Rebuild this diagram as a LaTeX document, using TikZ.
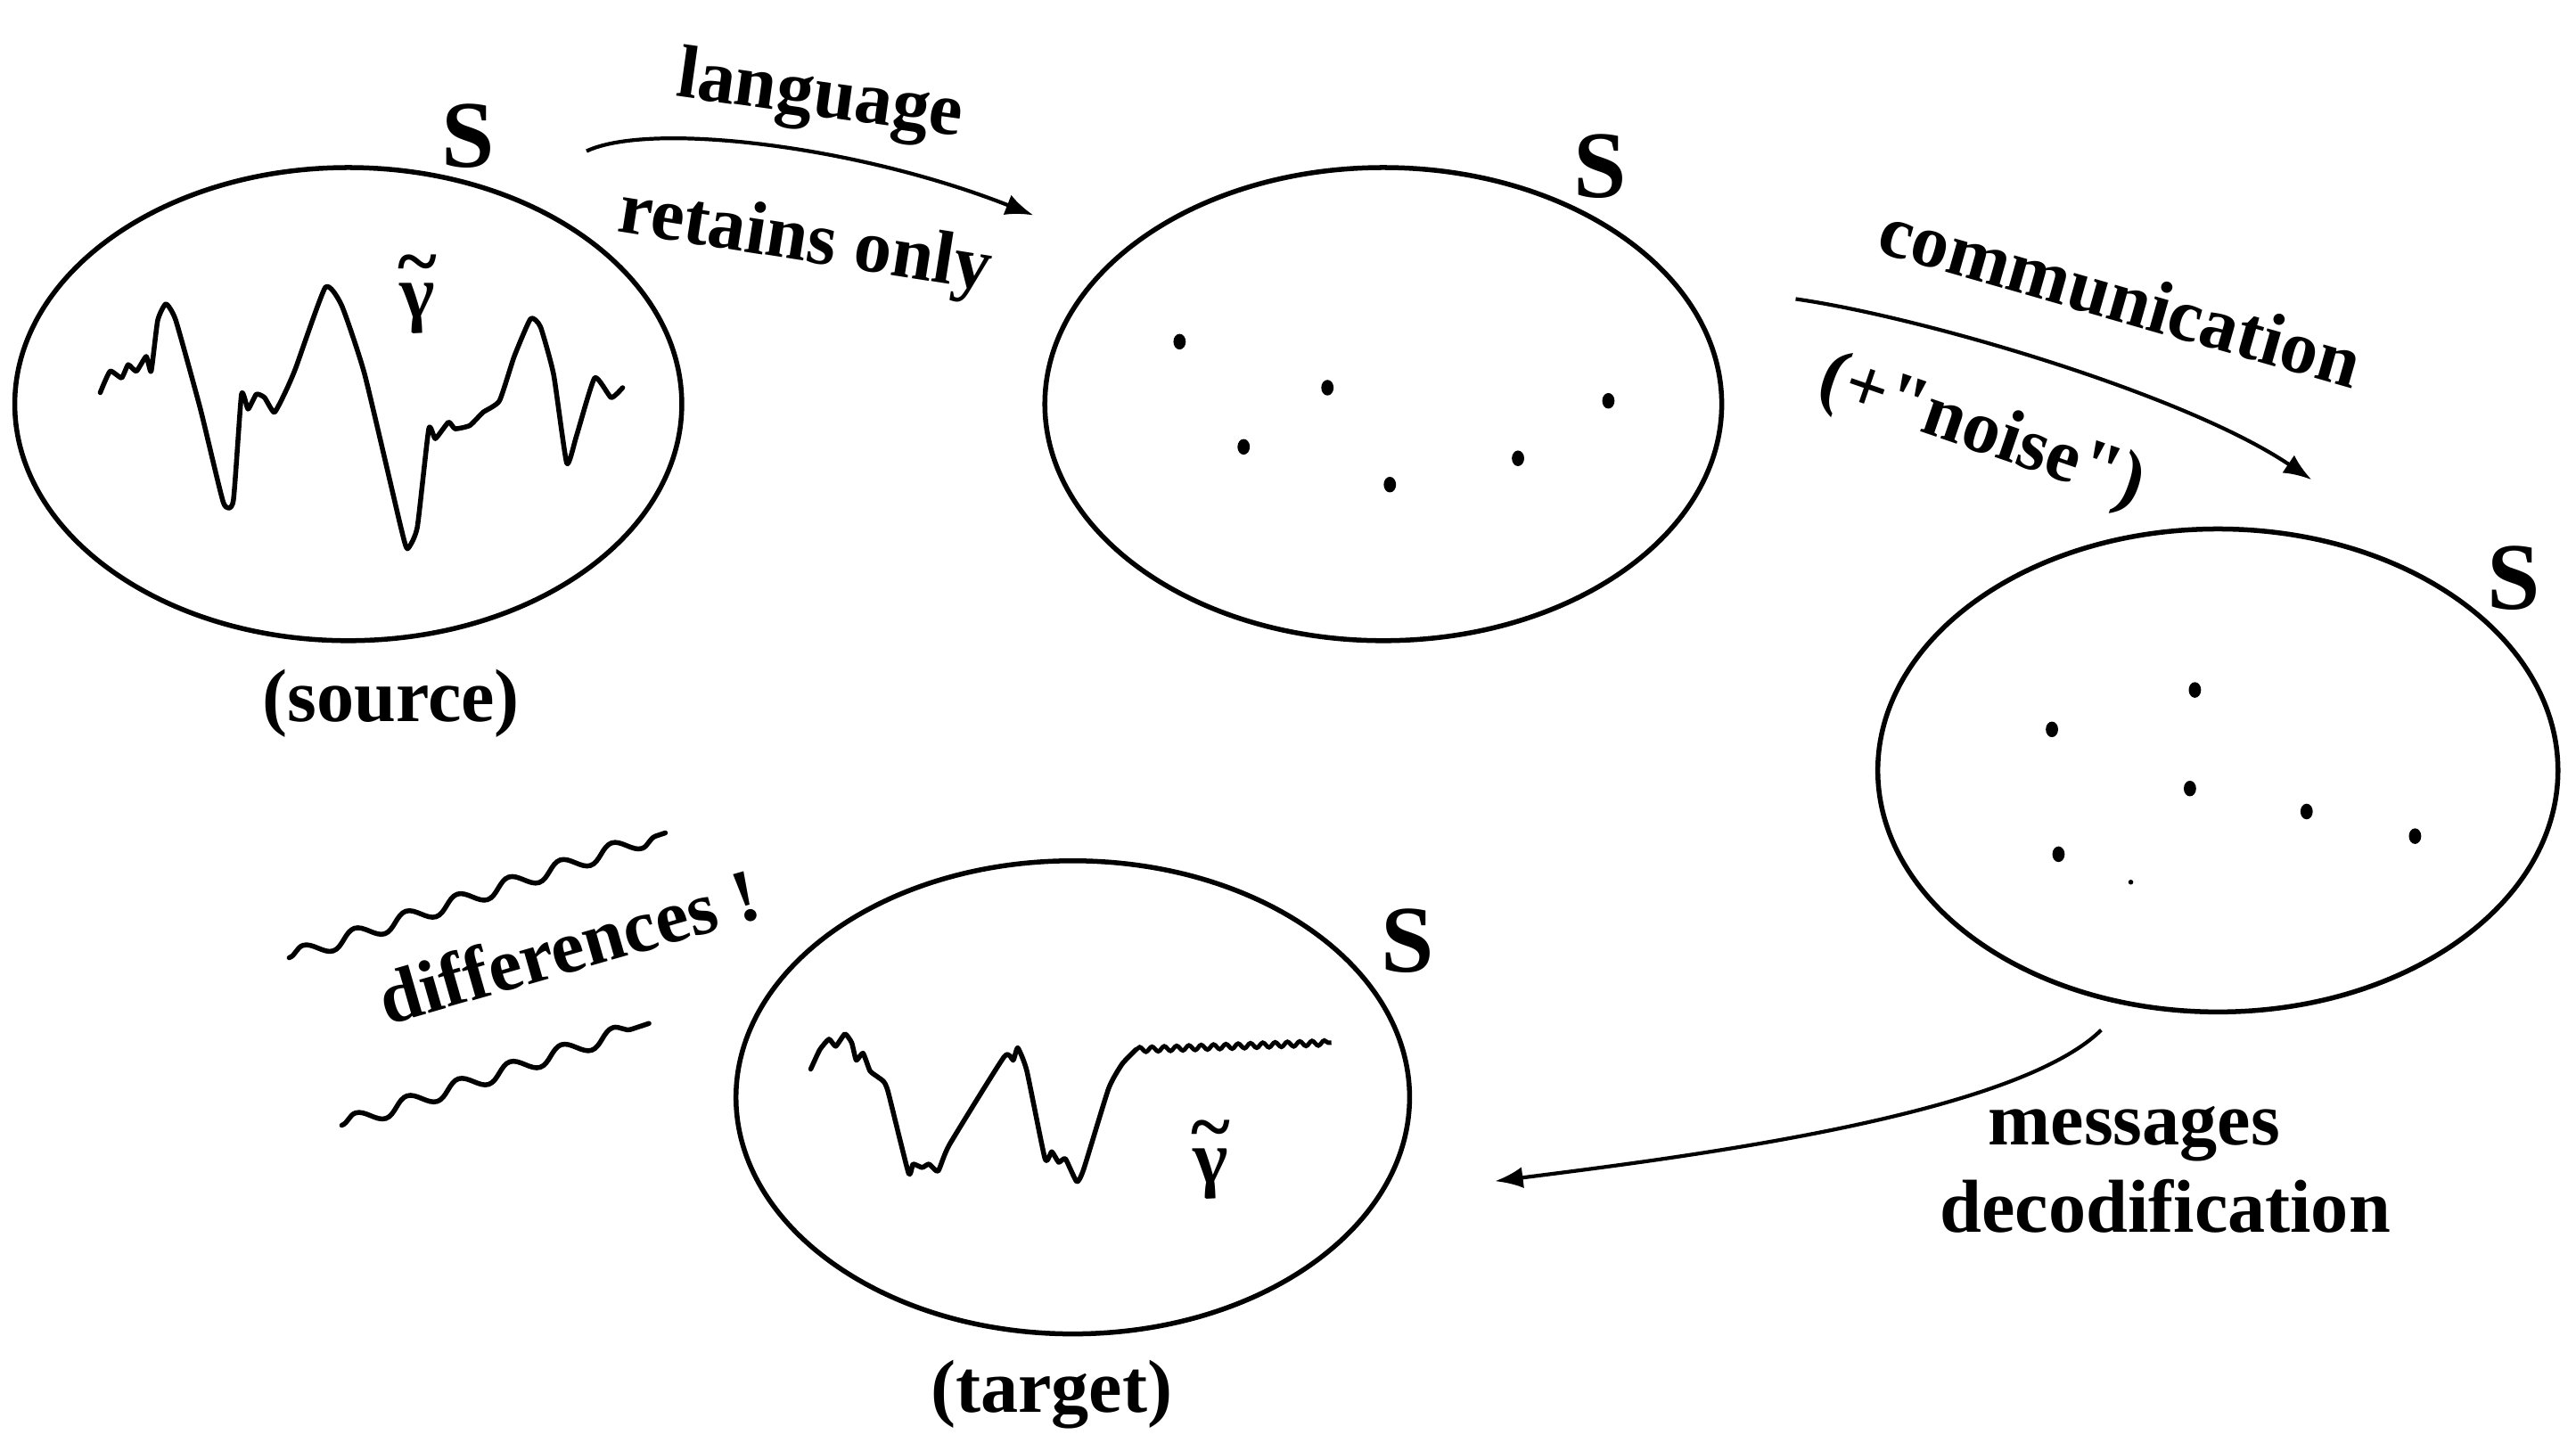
\documentclass[tikz,border=0pt]{standalone}
\usepackage{fontspec}
\setmainfont{Liberation Serif}
\usetikzlibrary{arrows.meta,decorations.pathmorphing,shapes.geometric}
\newcommand{\tgamma}{\ooalign{\hfil γ\hfil\cr\hfil\raisebox{0.42em}{\textasciitilde}\hfil\cr}}
\begin{document}
\begin{tikzpicture}[x=0.2mm,y=-0.2mm,
  lab/.style={font=\bfseries\fontsize{26}{28}\selectfont, inner sep=0pt},
  slab/.style={font=\bfseries\fontsize{33}{35}\selectfont, inner sep=0pt},
  glab/.style={font=\bfseries\fontsize{26}{28}\selectfont, inner sep=0pt},
  space/.style={draw, ellipse, line width=1.7pt, inner sep=0pt, minimum width=82mm, minimum height=57.6mm},
  dot/.style={ellipse, fill, inner sep=0pt, minimum width=1.5mm, minimum height=1.9mm},
  sig/.style={line width=1.7pt, line join=round, line cap=round},
  arr/.style={line width=1.3pt, -{Latex[length=3.4mm,width=2.6mm]}},
  wave/.style={line width=1.7pt, line cap=round, decorate, decoration={snake, amplitude=0.9mm, segment length=6.6mm}},
]
\useasboundingbox (0,0) rectangle (1568,878.4);

% spaces
\node[space, minimum width=81.2mm] (E1) at (212,246) {};
\node[space, minimum width=82.4mm] (E2) at (842,246) {};
\node[space, minimum width=82.8mm, minimum height=58.8mm] (E3) at (1350,469) {};
\node[space, minimum width=82mm] (E4) at (653,668) {};

% S labels
\node[slab] (S1) at (285,83) {S};
\node[slab] (S2) at (974,101) {S};
\node[slab] (S3) at (1530,352) {S};
\node[slab] (S4) at (857,573) {S};

% source signal
\draw[sig] plot[smooth, tension=0.3] coordinates {(61,239) (67,226) (74,230) (78,222) (83,226) (89,217) (92,226) (96,195) (101,185) (107,195) (122,249) (136,306) (142,305) (147,240) (151,249) (156,240) (161,242) (167,251) (174,238) (180,224) (198,175) (208,186) (222,228) (244,321) (248,334) (254,321) (261,261) (265,267) (273,257) (277,261) (286,259) (294,251) (304,244) (313,217) (323,194) (329,199) (337,228) (345,282) (351,265) (362,230) (372,242) (379,236)};
\node[glab] (g1) at (254,183) {\tgamma};

% dots in second space
\node[dot] (d1) at (718,208) {};
\node[dot] (d2) at (808,236) {};
\node[dot] (d3) at (757,272) {};
\node[dot] (d4) at (846,295) {};
\node[dot] (d5) at (924,279) {};
\node[dot] (d6) at (979,244) {};

% dots in third space
\node[dot] (m1) at (1336,420) {};
\node[dot] (m2) at (1249,444) {};
\node[dot] (m3) at (1333,480) {};
\node[dot] (m4) at (1404,494) {};
\node[dot] (m5) at (1470,509) {};
\node[dot] (m6) at (1253,520) {};
\node[circle, fill, inner sep=0pt, minimum size=0.6mm] (m7) at (1297,537) {};

% target signal
\draw[sig] plot[smooth, tension=0.3] coordinates {(493.5,650.8) (499,639) (504.6,632.6) (508.7,636.9) (514.3,629.4) (518.4,634.7) (521.2,645.4) (525.3,641.1) (529.5,651.8) (533.6,655.1) (537.8,658.3) (540.6,664.7) (553,714) (555.8,708.6) (561.3,710.7) (565.5,708.6) (571,712.9) (577.9,696.8) (611.2,643.3) (616.7,645.4) (619.5,637.9) (625,651.8) (636.1,705.4) (640.2,701.1) (644.4,707.5) (648.5,705.4) (655.4,719.3) (659.6,711.8) (674.8,662.6) (683.1,647.6) (691.4,639)} coordinate (tw);
\coordinate (twe) at (810.4,634.7);
\draw[line width=1.5pt, decorate, decoration={snake, amplitude=0.3mm, segment length=1.5mm}] (tw) -- (twe);
\node[glab] (g2) at (737,710) {\tgamma};

% arrow 1
\coordinate (a1s) at (357,92);
\coordinate (a1e) at (629,131);
\draw[arr] (a1s) .. controls (395,74) and (520,88) .. (a1e);
\node[lab, rotate=-8] (lang) at (499,60) {language};
\node[lab, rotate=-9] (ret) at (490,148) {retains only};

% arrow 2
\coordinate (a2s) at (1093,182);
\coordinate (a2e) at (1407,292);
\draw[arr] (a2s) .. controls (1170,193) and (1330,240) .. (a2e);
\node[lab, rotate=-16] (comm) at (1291,180) {communication};
\node[lab, rotate=-19] (noise) at (1206,264) {(+\textquotedbl noise\textquotedbl)};

% arrow 3
\coordinate (a3s) at (1279,627);
\coordinate (a3e) at (910,719);
\draw[arr] (a3s) .. controls (1225,680) and (1020,705) .. (a3e);
\node[lab] (mess) at (1299,690) {messages};
\node[lab] (deco) at (1318,734) {decodification};

% captions
\node[lab] (src) at (238,428) {(source)};
\node[lab] (tgt) at (640,849) {(target)};

% differences
\coordinate (w1s) at (176,583);
\coordinate (w1e) at (405,507);
\coordinate (w2s) at (208,685);
\coordinate (w2e) at (395,623);
\draw[wave] (w1s) -- (w1e);
\draw[wave] (w2s) -- (w2e);
\node[lab, rotate=16] (diff) at (346,576) {differences !};
\end{tikzpicture}
\end{document}
